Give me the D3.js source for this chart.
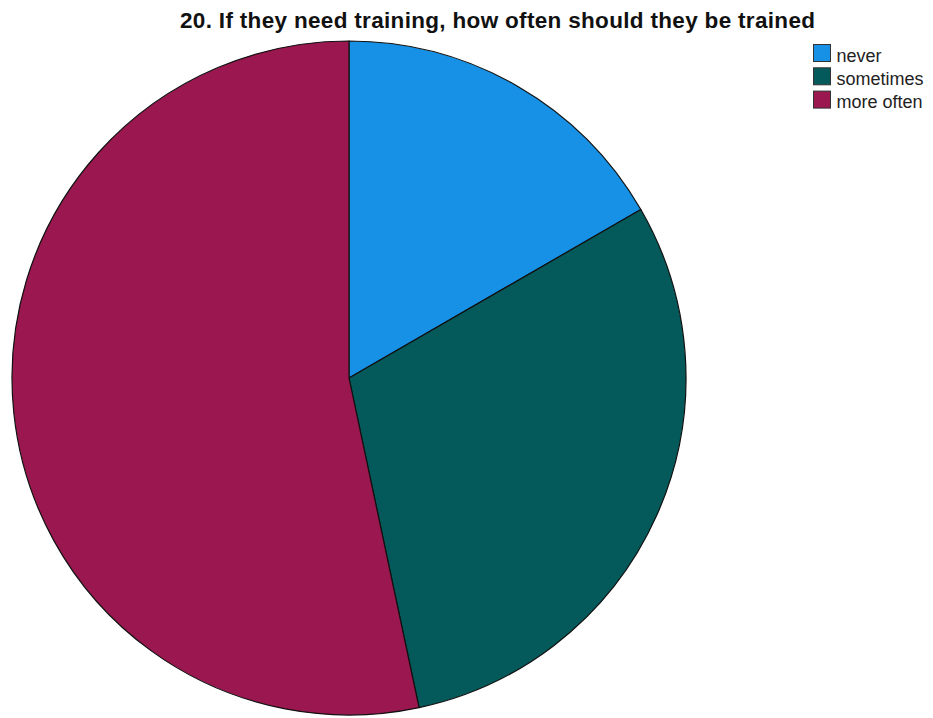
<!DOCTYPE html>
<html>
<head>
<meta charset="utf-8">
<script src="https://cdn.jsdelivr.net/npm/d3@7"></script>
<style>
  html, body { margin: 0; padding: 0; background: #ffffff; }
  svg { display: block; }
</style>
</head>
<body>
<svg id="chart" width="933" height="718"></svg>
<script>
const titleText = "20. If they need training, how often should they be trained";
const categories = ["never", "sometimes", "more often"];
const counts = [5, 9, 16];
const colors = ["#1691E6", "#045A5A", "#9B174F"];

const svg = d3.select("#chart");
const cx = 349, cy = 378, radius = 337;
const fontFamily = "Arial, 'Liberation Sans', sans-serif";

svg.append("text")
  .attr("x", 180)
  .attr("y", 28)
  .attr("textLength", 635)
  .attr("lengthAdjust", "spacing")
  .attr("font-family", fontFamily)
  .attr("font-weight", "bold")
  .attr("font-size", 22.5)
  .attr("fill", "#111")
  .text(titleText);

const color = d3.scaleOrdinal().domain(categories).range(colors);

const pie = d3.pie().value(d => d.value).sort(null);
const arc = d3.arc().innerRadius(0).outerRadius(radius);

const data = categories.map((c, i) => ({ name: c, value: counts[i] }));

const g = svg.append("g").attr("transform", `translate(${cx},${cy})`);
g.selectAll("path")
  .data(pie(data))
  .join("path")
  .attr("d", arc)
  .attr("fill", d => color(d.data.name))
  .attr("stroke", "#111")
  .attr("stroke-width", 1.2)
  .attr("stroke-linejoin", "round");

const legend = svg.append("g").attr("transform", "translate(813,44)");
const items = legend.selectAll("g")
  .data(categories)
  .join("g")
  .attr("transform", (d, i) => `translate(0,${i * 23.3})`);
items.append("rect")
  .attr("x", 0.5)
  .attr("y", 0.5)
  .attr("width", 17)
  .attr("height", 17)
  .attr("fill", d => color(d))
  .attr("stroke", "#333")
  .attr("stroke-width", 1);
items.append("text")
  .attr("x", 23.5)
  .attr("y", 17.5)
  .attr("font-family", fontFamily)
  .attr("font-size", 18)
  .attr("fill", "#222")
  .text(d => d);
</script>
</body>
</html>
